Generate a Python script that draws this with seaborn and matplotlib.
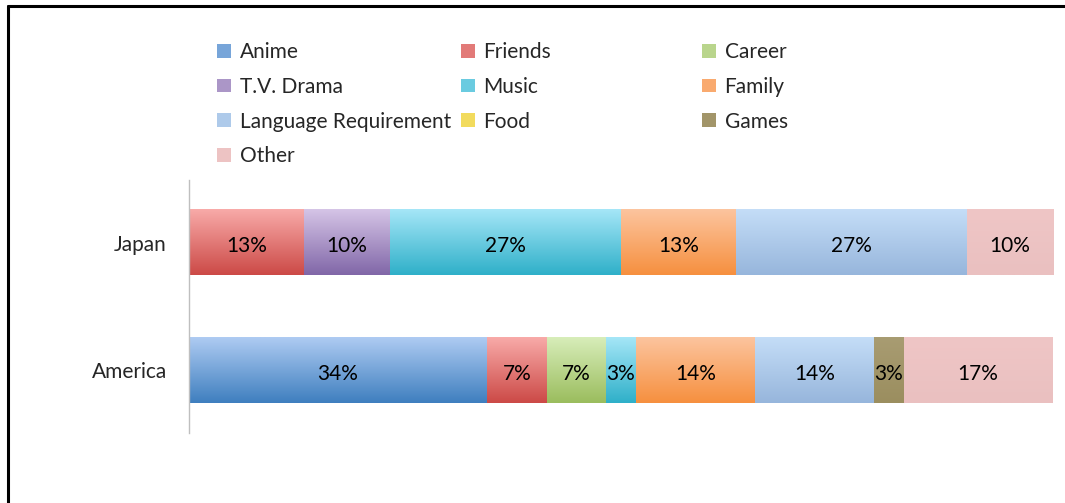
import numpy as np
import pandas as pd
import matplotlib.pyplot as plt
from matplotlib.lines import Line2D
from matplotlib.patches import Patch
from matplotlib.colors import to_rgb
import seaborn as sns

# data (percent of respondents)
countries = ["Japan", "America"]
reasons = ["Anime", "Friends", "Career", "T.V. Drama", "Music", "Family",
           "Language Requirement", "Food", "Games", "Other"]
japan = [0, 13.3, 0, 10.0, 26.7, 13.3, 26.7, 0, 0, 10.0]
america = [34.5, 6.9, 6.9, 0, 3.4, 13.8, 13.8, 0, 3.4, 17.2]

# (top, bottom) of the excel-ish gradient fill
grad_colors = {
    "Anime": ("#AECBF2", "#3F7FBF"),
    "Friends": ("#F8AAA8", "#CC4A47"),
    "Career": ("#D7EDB9", "#9BBD5E"),
    "T.V. Drama": ("#D5C4E6", "#8167A8"),
    "Music": ("#A5E6F7", "#2FB0C9"),
    "Family": ("#FCC49E", "#F6903F"),
    "Language Requirement": ("#C4DDF7", "#97B6DC"),
    "Food": ("#F7E47A", "#EDD23F"),
    "Games": ("#A89C72", "#9B8E5F"),
    "Other": ("#EFC6C6", "#EAC0C0"),
}

df = pd.DataFrame({"country": countries * len(reasons),
                   "reason": np.repeat(reasons, len(countries)),
                   "pct": [v for pair in zip(japan, america) for v in pair]})

sns.set_style("white")
plt.rcParams["font.family"] = ["Lato", "DejaVu Sans"]
FS = 15

fig = plt.figure(figsize=(10.65, 5.03), dpi=100)
ax = fig.add_axes([0.1775, 0.139, 0.8112, 0.503])

left = np.zeros(len(countries))
for r in reasons:
    sub = df[df.reason == r]
    vals = sub.pct.values
    top, bot = grad_colors[r]
    mid = tuple((np.array(to_rgb(top)) + np.array(to_rgb(bot))) / 2)
    sns.barplot(x=vals, y=countries, orient="h", color=mid, width=0.51,
                left=left, ax=ax, saturation=1)
    cont = ax.containers[-1]
    # gradient fill on each segment
    for p in cont.patches:
        if p.get_width() <= 0:
            continue
        x0, y0 = p.get_x(), p.get_y()
        w, h = p.get_width(), p.get_height()
        g = np.linspace(np.array(to_rgb(top)), np.array(to_rgb(bot)), 64)[:, None, :]
        ax.imshow(g, extent=(x0, x0 + w, y0 + h, y0), aspect="auto",
                  origin="upper", zorder=2, interpolation="bilinear")
    labels = [f"{v:.0f}%" if v > 0 else "" for v in vals]
    ax.bar_label(cont, labels=labels, label_type="center", fontsize=FS,
                 color="black", zorder=5)
    left = left + vals

for t in ax.texts:
    t.set_zorder(5)
    t.xyann = (0, -2.5)

ax.set_xlim(0, 100)
ax.set_ylim(1.49, -0.49)
ax.set_xlabel("")
ax.set_ylabel("")
ax.set_xticks([])
ax.tick_params(axis="y", length=0, labelsize=FS, pad=16)
for s in ["top", "right", "bottom"]:
    ax.spines[s].set_visible(False)
ax.spines["left"].set_color("#BFBFBF")
ax.spines["left"].set_linewidth(1)
ax.spines["left"].set_zorder(6)

# legend, three equal-width columns
cols = [["Anime", "T.V. Drama", "Language Requirement", "Other"],
        ["Friends", "Music", "Food"],
        ["Career", "Family", "Games"]]
col_x = [0.2038, 0.4329, 0.6592]
for i, col in enumerate(cols):
    handles = []
    for r in col:
        top, bot = grad_colors[r]
        mid = tuple((np.array(to_rgb(top)) + np.array(to_rgb(bot))) / 2)
        handles.append(Patch(facecolor=mid, edgecolor="none", label=r))
    fig.legend(handles=handles, loc="upper left",
               bbox_to_anchor=(col_x[i], 0.9165), frameon=False,
               fontsize=FS, handlelength=0.65, handleheight=0.65,
               handletextpad=0.43, labelspacing=0.71, borderpad=0,
               borderaxespad=0)

# outer frame (top and left only)
fig.add_artist(Line2D([0.0075, 0.0075], [0, 0.988], color="black", lw=2.2,
                      transform=fig.transFigure))
fig.add_artist(Line2D([0.0075, 1], [0.988, 0.988], color="black", lw=2.2,
                      transform=fig.transFigure))

fig.savefig("out.png", dpi=100, facecolor="white")
